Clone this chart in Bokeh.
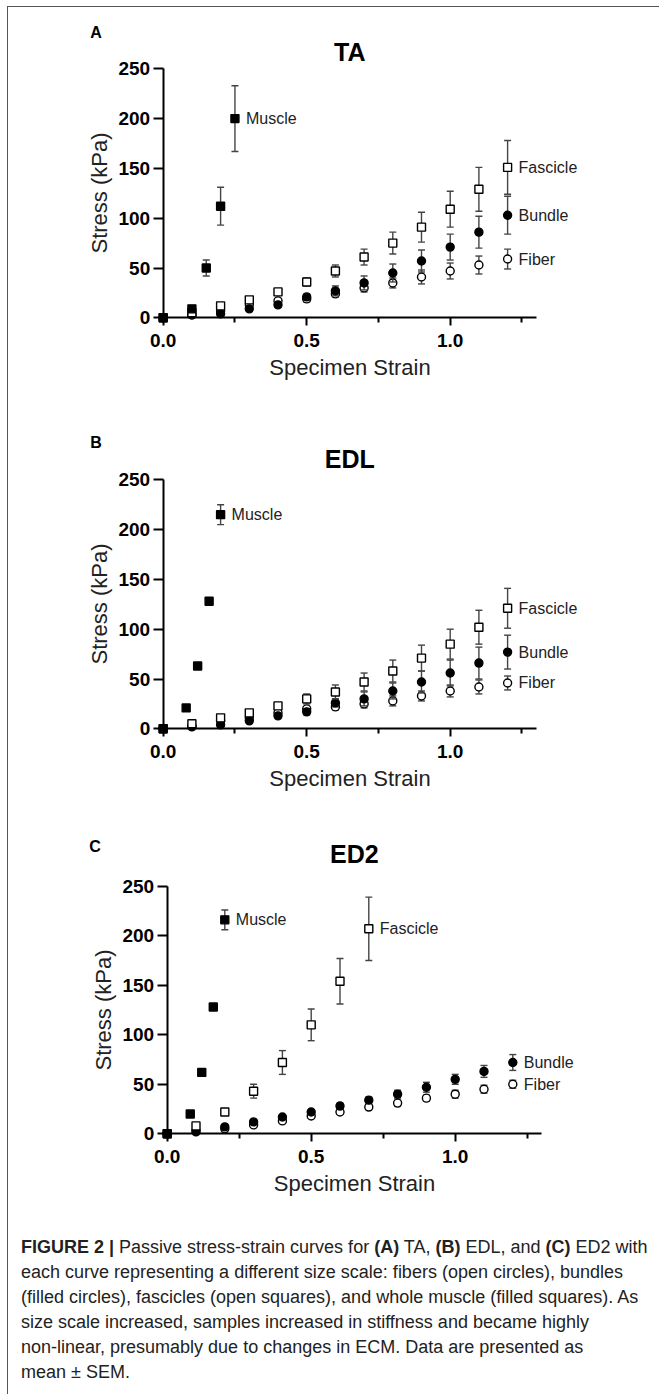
from bokeh.plotting import figure
from bokeh.models import Range1d, FixedTicker, PrintfTickFormatter, Label, Div, ColumnDataSource
from bokeh.layouts import column
from bokeh.embed import file_html
from bokeh.resources import INLINE

# ---------------- data ----------------
strain = [0.0, 0.1, 0.2, 0.3, 0.4, 0.5, 0.6, 0.7, 0.8, 0.9, 1.0, 1.1, 1.2]

# TA
ta_fiber = [0, 3, 7, 13, 17, 19, 24, 30, 35, 41, 47, 53, 59]
ta_fiber_sem = [0, 1, 1, 2, 2, 3, 3, 4, 5, 7, 8, 9, 10]
ta_bundle = [0, 3, 4, 9, 13, 21, 27, 35, 45, 57, 71, 86, 103]
ta_bundle_sem = [0, 1, 1, 2, 2, 3, 5, 7, 9, 11, 13, 16, 19]
ta_fascicle = [0, 5, 12, 18, 26, 36, 47, 61, 75, 91, 109, 129, 151]
ta_fascicle_sem = [0, 1, 2, 3, 3, 4, 6, 8, 11, 15, 18, 22, 27]
ta_muscle_strain = [0.0, 0.1, 0.15, 0.2, 0.25]
ta_muscle = [0, 9, 50, 112, 200]
ta_muscle_sem = [0, 3, 8, 19, 33]

# EDL
edl_fiber = [0, 3, 8, 11, 16, 20, 22, 25, 28, 33, 38, 42, 46]
edl_fiber_sem = [0, 1, 1, 2, 2, 2, 3, 4, 5, 5, 6, 7, 7]
edl_bundle = [0, 2, 4, 8, 13, 17, 26, 30, 38, 47, 56, 66, 77]
edl_bundle_sem = [0, 1, 1, 1, 2, 3, 4, 7, 8, 11, 13, 16, 17]
edl_fascicle = [0, 5, 11, 16, 23, 30, 37, 47, 58, 71, 85, 102, 121]
edl_fascicle_sem = [0, 1, 1, 2, 3, 5, 7, 9, 11, 13, 15, 17, 20]
edl_muscle_strain = [0.0, 0.08, 0.12, 0.16, 0.2]
edl_muscle = [0, 21, 63, 128, 215]
edl_muscle_sem = [0, 1, 2, 3, 10]

# ED2
ed2_fiber = [0, 2, 5, 9, 13, 18, 22, 27, 31, 36, 40, 45, 50]
ed2_fiber_sem = [0, 1, 1, 1, 2, 2, 2, 2, 3, 3, 4, 4, 4]
ed2_bundle = [0, 3, 7, 12, 17, 22, 28, 34, 40, 47, 55, 63, 72]
ed2_bundle_sem = [0, 1, 1, 1, 2, 2, 3, 3, 4, 5, 5, 6, 8]
ed2_fascicle_strain = [0.0, 0.1, 0.2, 0.3, 0.4, 0.5, 0.6, 0.7]
ed2_fascicle = [0, 8, 22, 43, 72, 110, 154, 207]
ed2_fascicle_sem = [0, 1, 2, 7, 12, 16, 23, 32]
ed2_muscle_strain = [0.0, 0.08, 0.12, 0.16, 0.2]
ed2_muscle = [0, 20, 62, 128, 216]
ed2_muscle_sem = [0, 1, 2, 3, 10]

x_ticks = [0.0, 0.5, 1.0]
x_minor_ticks = [0.25, 0.75, 1.25]
y_ticks = [0, 50, 100, 150, 200, 250]

FONT = "Liberation Sans"
ERR_COLOR = "#444444"
W = 643


def series(p, xs, ys, sems, marker, fill):
    lower = [y - s for y, s in zip(ys, sems)]
    upper = [y + s for y, s in zip(ys, sems)]
    src = ColumnDataSource(dict(x=xs, y=ys, lo=lower, hi=upper))
    p.segment(x0="x", y0="lo", x1="x", y1="hi", source=src, line_color=ERR_COLOR, line_width=1.4)
    p.scatter(x="x", y="hi", source=src, marker="dash", size=7, line_color=ERR_COLOR, line_width=1.4)
    p.scatter(x="x", y="lo", source=src, marker="dash", size=7, line_color=ERR_COLOR, line_width=1.4)
    p.scatter(x="x", y="y", source=src, marker=marker, size=8, line_color="black",
              fill_color=fill, line_width=1.4)


def end_label(p, x, y, text, dx=11):
    p.add_layout(Label(x=x, y=y, x_offset=dx, text=text, text_baseline="middle",
                       text_font=FONT, text_font_size="16px", text_color="#222222"))


def make_panel(letter, title, H, ox, oy, sx, sy, data, letter_dy, letter_dx, title_dy):
    # ox, oy: canvas pixel position of data origin; sx, sy: pixels per data unit
    x_range = Range1d(-ox / sx, (W - ox) / sx)
    y_range = Range1d(-(H - oy) / sy, oy / sy)
    p = figure(width=W, height=H, output_backend="svg", toolbar_location=None,
               x_range=x_range, y_range=y_range,
               min_border_left=0, min_border_right=0, min_border_top=0, min_border_bottom=0)
    p.outline_line_color = None
    p.grid.visible = False
    p.background_fill_color = "white"
    p.border_fill_color = "white"

    xa = p.xaxis[0]
    xa.fixed_location = 0
    xa.bounds = (0, 1.3)
    xa.ticker = FixedTicker(ticks=x_ticks, minor_ticks=x_minor_ticks)
    xa.formatter = PrintfTickFormatter(format="%.1f")
    xa.major_tick_in = 0
    xa.major_tick_out = 8
    xa.minor_tick_in = 0
    xa.minor_tick_out = 5
    xa.major_label_standoff = 8
    xa.axis_label = "Specimen Strain"
    xa.axis_label_standoff = 5

    ya = p.yaxis[0]
    ya.fixed_location = 0
    ya.bounds = (0, 250)
    ya.ticker = FixedTicker(ticks=y_ticks, minor_ticks=[])
    ya.major_tick_in = 0
    ya.major_tick_out = 10
    ya.major_label_standoff = 3
    ya.axis_label = "Stress (kPa)"
    ya.axis_label_standoff = 4

    for ax in (xa, ya):
        ax.axis_line_width = 2
        ax.axis_line_color = "black"
        ax.major_tick_line_width = 2
        ax.minor_tick_line_width = 2
        ax.major_tick_line_color = "black"
        ax.minor_tick_line_color = "black"
        ax.major_label_text_font = FONT
        ax.major_label_text_font_style = "bold"
        ax.major_label_text_font_size = "19px"
        ax.major_label_text_color = "black"
        ax.axis_label_text_font = FONT
        ax.axis_label_text_font_style = "normal"
        ax.axis_label_text_font_size = "22px"
        ax.axis_label_text_color = "#222222"

    (fx, fy, fs), (bx, by, bs), (cx, cy, cs), (mx, my, ms) = data
    series(p, fx, fy, fs, "circle", "white")
    series(p, bx, by, bs, "circle", "black")
    series(p, cx, cy, cs, "square", "white")
    series(p, mx, my, ms, "square", "black")

    end_label(p, mx[-1], my[-1], "Muscle")
    end_label(p, cx[-1], cy[-1], "Fascicle")
    end_label(p, bx[-1], by[-1], "Bundle")
    end_label(p, fx[-1], fy[-1], "Fiber")

    p.add_layout(Label(x=0, y=250, x_offset=letter_dx, y_offset=letter_dy, text=letter,
                       text_baseline="middle", text_font=FONT, text_font_style="bold",
                       text_font_size="16px", text_color="black"))
    p.add_layout(Label(x=0.65, y=250, y_offset=title_dy, text=title, text_align="center",
                       text_baseline="middle", text_font=FONT, text_font_style="bold",
                       text_font_size="25px", text_color="black"))
    return p


pA = make_panel("A", "TA", 412, 154.7, 310.3, 287.0, 0.996,
                [(strain, ta_fiber, ta_fiber_sem), (strain, ta_bundle, ta_bundle_sem),
                 (strain, ta_fascicle, ta_fascicle_sem),
                 (ta_muscle_strain, ta_muscle, ta_muscle_sem)], 36, -73, 17)
pB = make_panel("B", "EDL", 390, 154.7, 309.3, 287.0, 0.996,
                [(strain, edl_fiber, edl_fiber_sem), (strain, edl_bundle, edl_bundle_sem),
                 (strain, edl_fascicle, edl_fascicle_sem),
                 (edl_muscle_strain, edl_muscle, edl_muscle_sem)], 37, -73, 21)
pC = make_panel("C", "ED2", 405, 158.7, 324.3, 288.0, 0.9904,
                [(strain, ed2_fiber, ed2_fiber_sem), (strain, ed2_bundle, ed2_bundle_sem),
                 (ed2_fascicle_strain, ed2_fascicle, ed2_fascicle_sem),
                 (ed2_muscle_strain, ed2_muscle, ed2_muscle_sem)], 40, -78, 32)

caption = Div(
    text=("<b>FIGURE 2 |</b> Passive stress-strain curves for <b>(A)</b> TA, <b>(B)</b> EDL, "
          "and <b>(C)</b> ED2 with<br>each curve representing a different size scale: fibers "
          "(open circles), bundles<br>(filled circles), fascicles (open squares), and whole "
          "muscle (filled squares). As<br>size scale increased, samples increased in stiffness "
          "and became highly<br>non-linear, presumably due to changes in ECM. Data are "
          "presented as<br>mean \u00b1 SEM."),
    width=W, height=171,
    styles={"font-family": "'Liberation Sans Narrow', 'Liberation Sans', sans-serif",
            "font-size": "18px", "line-height": "25px", "color": "#222222",
            "padding-left": "8px", "padding-top": "16px", "white-space": "nowrap",
            "box-sizing": "border-box"})

layout = column(pA, pB, pC, caption, spacing=0,
                styles={"margin-left": "8px", "margin-top": "7px",
                        "box-shadow": "-1px -1px 0 0 #555555"})

open("out.html", "w").write(file_html(layout, INLINE))
